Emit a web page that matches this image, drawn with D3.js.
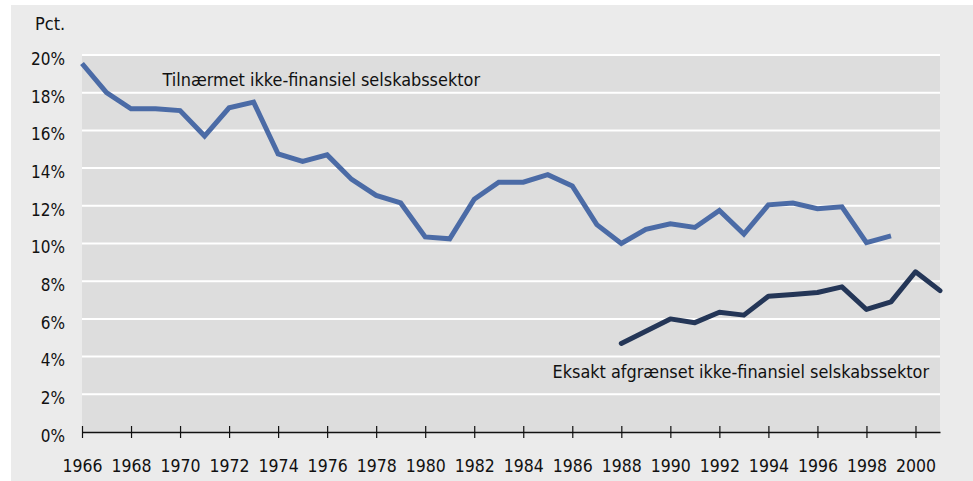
<!DOCTYPE html>
<html>
<head>
<meta charset="utf-8">
<script src="https://cdn.jsdelivr.net/npm/d3@7"></script>
<style>
    body { margin: 0; background: #ffffff; }
    text { font-family: "Liberation Sans Narrow", "DejaVu Sans Condensed", "Open Sans", sans-serif; fill: #111111; }
</style>
</head>
<body>
<div id="chart"></div>
<script>
// Data (percent)
var yearsApprox = d3.range(1966, 2000);
var valuesApprox = [19.55, 18.0, 17.15, 17.15, 17.05, 15.7, 17.2, 17.5, 14.75, 14.35,
    14.7, 13.4, 12.55, 12.15, 10.35, 10.25, 12.35, 13.25, 13.25, 13.65,
    13.05, 11.0, 10.0, 10.75, 11.05, 10.85, 11.75, 10.5, 12.05, 12.15,
    11.85, 11.95, 10.05, 10.4];

var yearsExact = d3.range(1988, 2002);
var valuesExact = [4.7, 5.35, 6.0, 5.8, 6.35, 6.2, 7.2, 7.3, 7.4, 7.7,
    6.5, 6.9, 8.5, 7.5];

var yTicks = [0, 2, 4, 6, 8, 10, 12, 14, 16, 18, 20];
var xTicks = d3.range(1966, 2001, 2);

var labelApprox = "Tilnærmet ikke-finansiel selskabssektor";
var labelExact = "Eksakt afgrænset ikke-finansiel selskabssektor";

var svgWidth = 973;
var svgHeight = 481;

var margin = {
    top: 55,
    right: 33,
    bottom: 49,
    left: 82
};

var width = svgWidth - margin.left - margin.right;
var height = svgHeight - margin.top - margin.bottom;

var svg = d3.select("#chart")
    .append("svg")
    .attr("width", svgWidth)
    .attr("height", svgHeight);

// outer light panel
svg.append("rect")
    .attr("x", 11)
    .attr("y", 5)
    .attr("width", svgWidth - 11)
    .attr("height", svgHeight - 5)
    .attr("fill", "#ebebeb");

var chartGroup = svg.append("g")
    .attr("transform", `translate(${margin.left}, ${margin.top})`);

// Scales
var xScale = d3.scaleLinear()
    .domain([1966, 2001])
    .range([0, width]);

var yScale = d3.scaleLinear()
    .domain([0, 20])
    .range([height, 0]);

// plot area
chartGroup.append("rect")
    .attr("width", width)
    .attr("height", height)
    .attr("fill", "#dddddd");

// gridlines
chartGroup.append("g")
    .selectAll("line")
    .data(yTicks.filter(d => d > 0))
    .enter()
    .append("line")
    .attr("x1", 0)
    .attr("x2", width)
    .attr("y1", d => yScale(d))
    .attr("y2", d => yScale(d))
    .attr("stroke", "#ffffff")
    .attr("stroke-width", 2);

// y axis labels
var yAxis = d3.axisLeft(yScale)
    .tickValues(yTicks)
    .tickFormat(d => d + "%")
    .tickSize(0)
    .tickPadding(17);

var yAxisGroup = chartGroup.append("g")
    .call(yAxis);
yAxisGroup.select(".domain").remove();
yAxisGroup.selectAll("text")
    .attr("dy", "0.55em")
    .style("font-size", "17px")
    .attr("fill", "#111111");

// x axis with ticks crossing the baseline
var xAxis = d3.axisBottom(xScale)
    .tickValues(xTicks)
    .tickFormat(d3.format("d"))
    .tickSizeInner(6)
    .tickSizeOuter(0)
    .tickPadding(22);

var xAxisGroup = chartGroup.append("g")
    .attr("transform", `translate(0, ${height})`)
    .call(xAxis);
xAxisGroup.select(".domain")
    .attr("stroke", "#111111")
    .attr("stroke-width", 1.5);
xAxisGroup.selectAll(".tick line")
    .attr("y1", -6)
    .attr("stroke", "#111111")
    .attr("stroke-width", 1.2);
xAxisGroup.selectAll("text")
    .style("font-size", "17.5px")
    .attr("fill", "#111111");

// lines
var line = d3.line()
    .x(d => xScale(d[0]))
    .y(d => yScale(d[1]));

chartGroup.append("path")
    .datum(d3.zip(yearsApprox, valuesApprox))
    .attr("d", line)
    .attr("fill", "none")
    .attr("stroke", "#4b6ba6")
    .attr("stroke-width", 5)
    .attr("stroke-linejoin", "miter")
    .attr("stroke-linecap", "butt");

chartGroup.append("path")
    .datum(d3.zip(yearsExact, valuesExact))
    .attr("d", line)
    .attr("fill", "none")
    .attr("stroke", "#243657")
    .attr("stroke-width", 5)
    .attr("stroke-linejoin", "round")
    .attr("stroke-linecap", "round");

// series labels
chartGroup.append("text")
    .attr("x", 162.5 - margin.left)
    .attr("y", yScale(18.35))
    .style("font-size", "17.9px")
    .text(labelApprox);

chartGroup.append("text")
    .attr("x", 552.5 - margin.left)
    .attr("y", yScale(2.85))
    .style("font-size", "17.9px")
    .text(labelExact);

// unit label
svg.append("text")
    .attr("x", 35)
    .attr("y", 30)
    .style("font-size", "18px")
    .text("Pct.");
</script>
</body>
</html>
